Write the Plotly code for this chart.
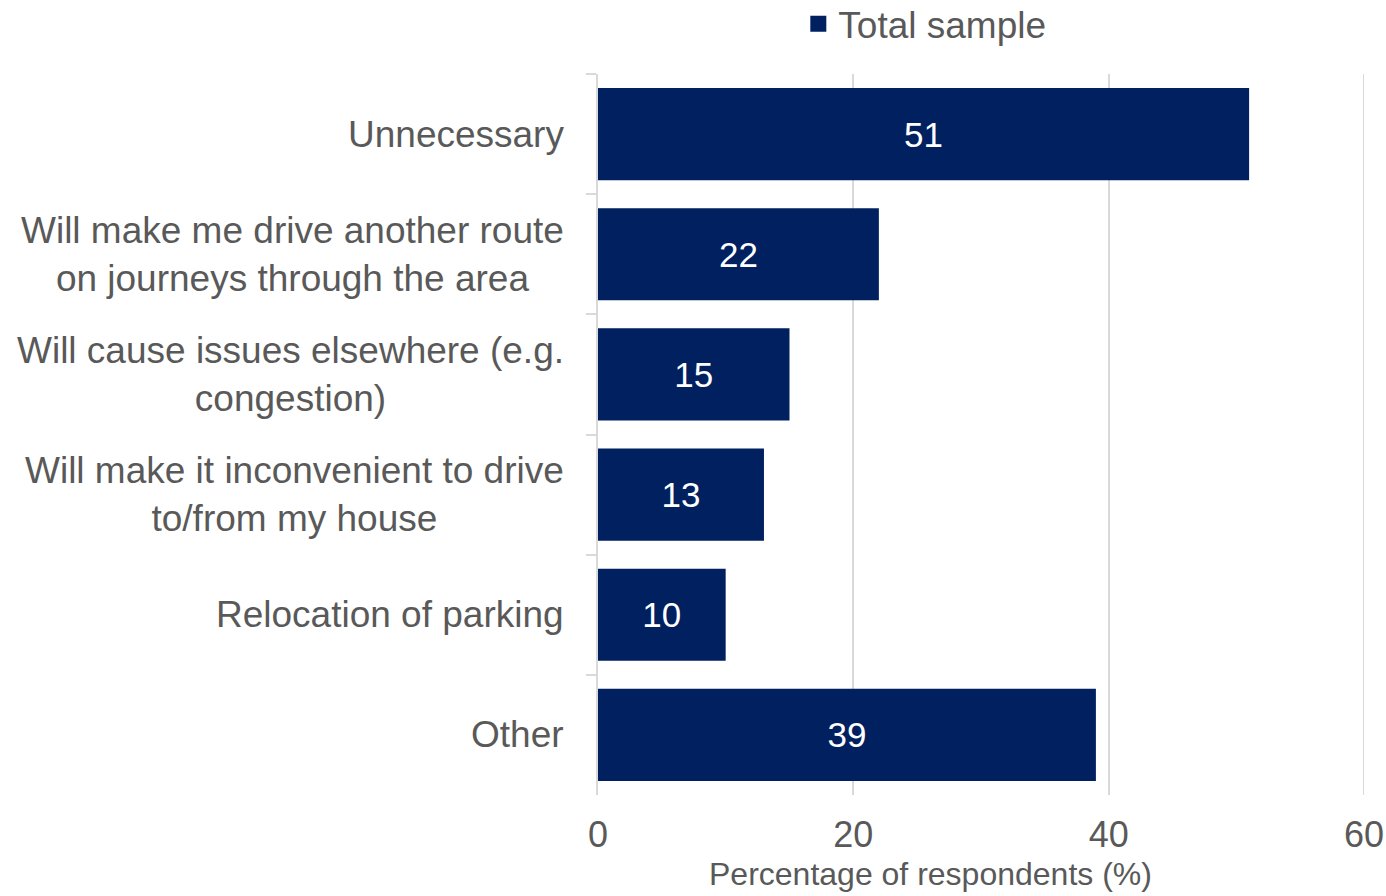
import plotly.graph_objects as go

# Survey responses: reasons given, share of respondents (%)
categories = [
    "Unnecessary",
    "Will make me drive another route<br>on journeys through the area",
    "Will cause issues elsewhere (e.g.<br>congestion)",
    "Will make it inconvenient to drive<br>to/from my house",
    "Relocation of parking",
    "Other",
]
values = [51, 22, 15, 13, 10, 39]
series_name = "Total sample"
x_ticks = [0, 20, 40, 60]
x_max = 60
x_title = "Percentage of respondents (%)"

NAVY = "#002060"
GREY_TEXT = "#595959"
GRID = "#d9d9d9"
FONT = "Liberation Sans, Arial, sans-serif"

fig = go.Figure()

fig.add_trace(go.Bar(
    y=categories,
    x=values,
    orientation="h",
    marker=dict(color=NAVY, line=dict(width=0)),
    text=[str(v) for v in values],
    textposition="inside",
    insidetextanchor="middle",
    textfont=dict(color="white", size=35, family=FONT),
    showlegend=False,
    hoverinfo="x+y",
))

# Legend entry with a larger square swatch
fig.add_trace(go.Scatter(
    x=[None], y=[None],
    mode="markers",
    marker=dict(symbol="square", size=18, color=NAVY),
    name=series_name,
    showlegend=True,
))

# Category labels: right-aligned block, lines centred within it
annotations = [
    dict(
        text=c, xref="paper", yref="y", x=0, y=c,
        xanchor="right", yanchor="middle", align="center",
        xshift=-32, showarrow=False,
        font=dict(size=37, color=GREY_TEXT, family=FONT),
    )
    for c in categories
]
# Axis title, set slightly left of the plot centre
annotations.append(dict(
    text=x_title, xref="paper", yref="paper",
    x=0.4347, y=-0.109, xanchor="center", yanchor="middle",
    showarrow=False, font=dict(size=32, color=GREY_TEXT, family=FONT),
))

fig.update_layout(
    width=1386,
    height=896,
    margin=dict(l=598, r=22, t=74, b=101, autoexpand=False),
    paper_bgcolor="white",
    plot_bgcolor="white",
    font=dict(family=FONT, color=GREY_TEXT, size=34),
    bargap=0.233,
    legend=dict(
        orientation="h",
        x=0.2615, y=1.069,
        xanchor="left", yanchor="middle",
        font=dict(size=37, color=GREY_TEXT, family=FONT),
        itemwidth=30,
        bgcolor="rgba(0,0,0,0)",
    ),
    annotations=annotations,
    # gridline at the axis maximum (the edge gridline is not drawn by default)
    shapes=[dict(
        type="line", xref="x", yref="paper",
        x0=x_max, x1=x_max, y0=0, y1=1,
        line=dict(color=GRID, width=2), layer="below",
    )],
)

fig.update_xaxes(
    range=[0, x_max],
    tickvals=x_ticks,
    showgrid=True,
    gridcolor=GRID,
    gridwidth=2,
    zeroline=False,
    showline=False,
    ticks="",
    ticklabelstandoff=15,
    automargin=False,
    tickfont=dict(size=36, color=GREY_TEXT),
)

fig.update_yaxes(
    categoryorder="array",
    categoryarray=categories,
    autorange="reversed",
    showline=True,
    linecolor=GRID,
    linewidth=2,
    ticks="outside",
    tickson="boundaries",
    ticklen=10,
    tickcolor=GRID,
    tickwidth=2,
    showticklabels=False,
    showgrid=False,
    automargin=False,
)

fig.write_html("out.html")
